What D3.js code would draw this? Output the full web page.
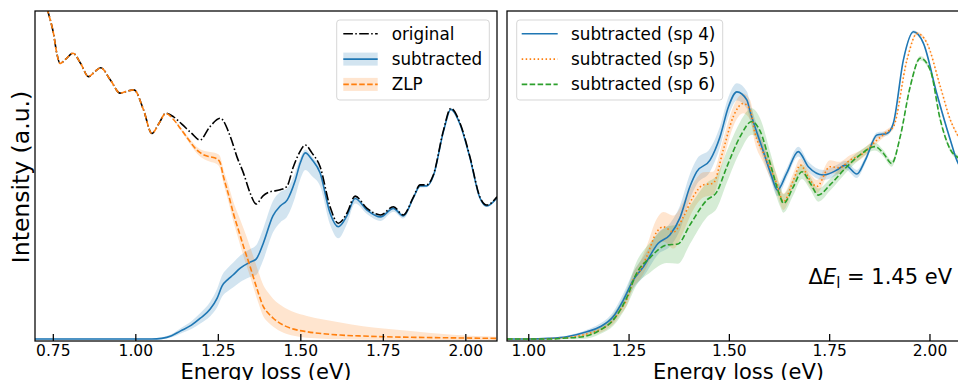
<!DOCTYPE html>
<html><head><meta charset="utf-8">
<script src="https://cdn.jsdelivr.net/npm/d3@7"></script>
<style>body{margin:0;background:#fff}svg{display:block;font-family:"DejaVu Sans",sans-serif}</style>
</head><body><svg id="c" width="958" height="380"></svg>
<script>
// ---------- DATA (energy in eV, intensity in a.u.) ----------
// Left panel
const origE = [0.70,0.72,0.735,0.752,0.762,0.772,0.79,0.811,0.835,0.858,0.876,0.895,0.925,0.954,0.975,0.996,1.025,1.05,1.072,1.092,1.115,1.141,1.17,1.196,1.225,1.257,1.288,1.308,1.328,1.348,1.366,1.387,1.408,1.439,1.459,1.479,1.497,1.515,1.535,1.560,1.590,1.615,1.641,1.666,1.702,1.743,1.782,1.812,1.843,1.863,1.883,1.903,1.934,1.956,1.984,2.014,2.044,2.065,2.096];
const origI = [115,106,100,93.2,87.2,84.1,85.5,87.2,84,80.1,81.5,82.8,79,75.1,75.7,76.1,70,62.9,66,69.0,68,65.7,63,60.9,64.8,67.5,61.9,55.8,50.8,44.8,41.5,44,45.2,45.8,46.8,52.8,57,59.4,57,52.8,40.7,35.7,38.7,43.9,40.2,38.2,40.7,38.2,43.7,47.3,47.3,50.3,63.9,70.5,66.0,55.8,43.7,41.2,43.7];

const subE = [0.696,1.0,1.05,1.08,1.11,1.136,1.17,1.197,1.227,1.248,1.263,1.280,1.296,1.318,1.348,1.366,1.387,1.417,1.440,1.460,1.484,1.500,1.515,1.535,1.560,1.590,1.615,1.641,1.666,1.702,1.743,1.782,1.812,1.843,1.863,1.883,1.903,1.934,1.956,1.984,2.014,2.044,2.065,2.096];
const subI = [0.6,0.6,0.6,0.8,1.6,3.0,4.8,6.9,9.7,13.0,16.7,18.6,20.0,22.1,23.9,24.8,29.4,37.9,41,42.7,48.5,54,57.0,55,50.9,38.8,34.6,37.9,43.2,39.7,37.6,40.2,37.9,43.5,47.0,47.0,50.0,63.6,70.2,65.7,55.5,43.4,40.9,43.4];
const subUp = [0.2,0.2,0.2,0.3,0.5,0.8,1.2,1.6,2.2,2.8,3.2,3.5,3.7,3.8,4,4.2,4.5,4.5,4.2,3.5,2.5,1.5,1,1,1.2,1.2,1,0.8,0.8,0.8,0.8,0.6,0.6,0.5,0.5,0.4,0.4,0.3,0.3,0.3,0.3,0.3,0.3,0.3];
const subDown = [0.2,0.2,0.2,0.3,0.5,0.8,1.2,1.6,2.2,2.8,3.2,3.5,3.8,4.2,4.5,4.8,5,5,5,5,5,5,5.2,5,4,3.5,3.5,2.5,1.5,1.2,1.2,1,0.8,0.6,0.5,0.4,0.4,0.3,0.3,0.3,0.3,0.3,0.3,0.3];

const zlpE = [0.70,0.72,0.735,0.752,0.762,0.772,0.79,0.811,0.835,0.858,0.876,0.895,0.925,0.954,0.975,0.996,1.025,1.05,1.072,1.092,1.115,1.136,1.16,1.186,1.21,1.227,1.245,1.256,1.267,1.282,1.297,1.313,1.328,1.348,1.373,1.388,1.403,1.418,1.449,1.48,1.52,1.57,1.621,1.69,1.752,1.85,1.924,2.0,2.096];
const zlpI = [115,106,100,93.2,87.2,84.1,85.5,87.2,84,80.1,81.5,82.8,79,75.1,75.7,76.1,70,62.9,66,69.0,67.2,64.5,61.2,57.9,56.3,55.8,55.3,54.3,49.8,44.5,38.7,33.5,28.6,22.5,14.5,10.4,8.4,6.9,4.8,3.6,2.8,2.2,1.8,1.5,1.3,1.1,1.0,0.9,0.8];
const zlpUp = [0,0,0,0,0,0,0,0,0,0,0,0,0,0,0,0,0,0,0,0,0.2,0.4,0.7,1,1.3,1.5,1.6,1.8,2.2,2.8,3.5,4.5,5.5,6,6.5,6.5,6.2,5.8,5.5,5.2,4.8,4.3,3.8,3,2.5,1.8,1.2,0.8,0.5];
const zlpDown = [0,0,0,0,0,0,0,0,0,0,0,0,0,0,0,0,0,0,0,0,0.2,0.4,0.7,1,1.3,1.5,1.6,1.8,2,2.2,2.5,2.8,3,3,3,3,2.8,2.6,2.3,2,1.8,1.5,1.3,1.1,0.9,0.8,0.7,0.7,0.6];

// Right panel
const sp4E = [0.947,1.0,1.05,1.096,1.146,1.179,1.212,1.237,1.262,1.287,1.324,1.353,1.378,1.403,1.420,1.453,1.478,1.499,1.520,1.545,1.553,1.582,1.605,1.621,1.644,1.673,1.698,1.736,1.769,1.790,1.819,1.840,1.869,1.894,1.910,1.935,1.960,1.985,2.018,2.052,2.068,2.101];
const sp4I = [0.6,0.6,0.8,1.3,2.8,4.3,7.4,12.4,18.5,22.5,29.6,32.1,37.3,46.8,51.3,54.8,61.9,71.0,75.5,73.0,69.5,58.9,50.5,45.7,50.8,57.4,52.8,50.3,51.8,53.3,50.6,54.8,62.4,62.9,66.0,85.2,93.7,90.2,75.1,60.9,54.8,50];
const sp4Err = [0,0,0.2,0.3,0.6,1,1.5,2,2.5,3,3.3,3.5,3.7,3.8,3.8,3.5,3.2,3,2.6,2.6,2.5,2.3,2,1.8,1.5,1.5,1.5,1.5,1.5,1.3,1.2,1,0.8,0.7,0.6,0.5,0.5,0.5,0.5,0.5,0.5,0.5];

const sp5E = [0.947,1.0,1.05,1.096,1.154,1.191,1.216,1.229,1.245,1.262,1.279,1.295,1.320,1.337,1.362,1.387,1.411,1.436,1.461,1.486,1.511,1.536,1.553,1.565,1.586,1.619,1.636,1.661,1.678,1.702,1.719,1.752,1.775,1.802,1.835,1.869,1.894,1.910,1.944,1.969,1.994,2.027,2.052,2.072,2.101];
const sp5I = [0.6,0.6,0.7,1.0,2.4,4.2,7.0,9.4,12.4,18.5,21.5,25.5,33.0,34.6,33.0,37.7,43.7,47.3,47.8,57.9,68.0,72.0,70.0,63,57,47.8,42.2,48.8,53.3,48.8,46.8,52.8,52.5,54.8,56.9,60.9,63.4,64.9,85.2,93.2,90.2,77.1,67.0,61.9,55];
const sp5Err = [0,0,0.2,0.3,0.6,1,1.3,1.5,1.8,2.2,2.7,3.2,4,4.5,5,4.5,4,3.8,3.5,3.3,3,3,3,3,3,2.8,2.5,2.2,2,2,2,2,1.8,1.5,1.3,1,0.8,0.7,0.6,0.5,0.5,0.5,0.5,0.5,0.5];

const sp6E = [0.947,1.0,1.05,1.096,1.137,1.179,1.212,1.245,1.270,1.303,1.345,1.373,1.403,1.445,1.470,1.495,1.528,1.557,1.578,1.603,1.628,1.636,1.661,1.682,1.703,1.723,1.752,1.794,1.827,1.864,1.885,1.906,1.927,1.952,1.977,2.002,2.027,2.052,2.072,2.101];
const sp6I = [0.6,0.6,0.6,0.9,1.3,3.3,6.4,13.0,20.5,25.2,29.1,29.4,35.2,42.7,45.2,52.8,61.9,66.5,63.6,53.8,43.7,41.7,46.8,51.3,47.8,44.2,47.3,52.8,56.4,58.9,56.9,53.8,61.9,77.1,85.7,82.1,67.0,58,55.5,53];
const sp6Err = [0,0,0.2,0.4,0.7,1.2,1.8,2.5,3.5,4.5,5.5,6,5.8,5.2,5,4.8,4.5,4,3.8,3.5,3,2.8,2.5,2.2,2,2,1.8,1.5,1.3,1.2,1,1,0.8,0.7,0.7,0.7,0.7,0.7,0.7,0.7];

const leftTicks = [0.75,1.00,1.25,1.50,1.75,2.00];
const rightTicks = [1.00,1.25,1.50,1.75,2.00];
const leftLegend = ["original","subtracted","ZLP"];
const rightLegend = ["subtracted (sp 4)","subtracted (sp 5)","subtracted (sp 6)"];
const annotation = {value:"1.45", unit:"eV"};

// ---------- DRAW ----------
const BLUE="#1f77b4", ORANGE="#ff7f0e", GREEN="#2ca02c";
const LW=1.6;
const svg=d3.select('#c');
const y=d3.scaleLinear().domain([0,100]).range([341,11]);
const yTop=11,yBot=341;

function series(E,I){return E.map((e,i)=>[e,I[i]]);}
function bandData(E,I,up,down){return E.map((e,i)=>[e,I[i]-down[i],I[i]+up[i]]);}

function makePanel(id,x0,x1,domain,ticks){
  const x=d3.scaleLinear().domain(domain).range([x0,x1]);
  svg.append('clipPath').attr('id',id).append('rect')
    .attr('x',x0).attr('y',yTop).attr('width',x1-x0).attr('height',yBot-yTop);
  const g=svg.append('g').attr('clip-path',`url(#${id})`);
  const line=d3.line().x(d=>x(d[0])).y(d=>y(d[1])).curve(d3.curveMonotoneX);
  const area=d3.area().x(d=>x(d[0])).y0(d=>y(d[1])).y1(d=>y(d[2])).curve(d3.curveMonotoneX);
  const ax=svg.append('g').attr('transform',`translate(0,${yBot})`)
    .call(d3.axisBottom(x).tickValues(ticks).tickFormat(d3.format('.2f'))
      .tickSizeInner(-7).tickSizeOuter(0).tickPadding(3.5));
  ax.select('.domain').remove();
  ax.selectAll('.tick line').attr('stroke','#000').attr('stroke-width',1.25);
  ax.selectAll('.tick text').attr('font-size',15.5).attr('fill','#000')
    .attr('font-family','"DejaVu Sans",sans-serif');
  svg.append('rect').attr('x',x0).attr('y',yTop).attr('width',x1-x0).attr('height',yBot-yTop)
    .attr('fill','none').attr('stroke','#000').attr('stroke-width',1.25);
  svg.append('text').attr('x',(x0+x1)/2).attr('y',378.5).attr('text-anchor','middle')
    .attr('font-size',21).attr('fill','#000').text('Energy loss (eV)');
  return {x,g,line,area};
}

// Left panel
const L=makePanel('clipL',35,497,[0.696,2.096],leftTicks);
L.g.append('path').datum(bandData(subE,subI,subUp,subDown)).attr('d',L.area).attr('fill',BLUE).attr('fill-opacity',0.2);
L.g.append('path').datum(bandData(zlpE,zlpI,zlpUp,zlpDown)).attr('d',L.area).attr('fill',ORANGE).attr('fill-opacity',0.2);
L.g.append('path').datum(series(subE,subI)).attr('d',L.line).attr('fill','none').attr('stroke',BLUE).attr('stroke-width',LW);
L.g.append('path').datum(series(origE,origI)).attr('d',L.line).attr('fill','none').attr('stroke','#000').attr('stroke-width',LW).attr('stroke-dasharray','9.6,2.4,1.5,2.4');
L.g.append('path').datum(series(zlpE,zlpI)).attr('d',L.line).attr('fill','none').attr('stroke',ORANGE).attr('stroke-width',LW).attr('stroke-dasharray','5.55,2.4');

// Right panel
const R=makePanel('clipR',507,970,[0.947,2.101],rightTicks);
[[sp4E,sp4I,sp4Err,BLUE],[sp5E,sp5I,sp5Err,ORANGE],[sp6E,sp6I,sp6Err,GREEN]].forEach(([E,I,Er,c])=>{
  R.g.append('path').datum(bandData(E,I,Er,Er)).attr('d',R.area).attr('fill',c).attr('fill-opacity',0.2);
});
[[sp4E,sp4I,BLUE,null],[sp5E,sp5I,ORANGE,'1.5,2.475'],[sp6E,sp6I,GREEN,'5.55,2.4']].forEach(([E,I,c,da])=>{
  const p=R.g.append('path').datum(series(E,I)).attr('d',R.line).attr('fill','none').attr('stroke',c).attr('stroke-width',LW);
  if(da) p.attr('stroke-dasharray',da);
});

// Y label
svg.append('text').attr('transform','translate(29,177) rotate(-90)').attr('text-anchor','middle')
  .attr('font-size',23.5).attr('fill','#000').text('Intensity (a.u.)');

// Legends
function legend(bx,bw,hx0,hx1,tx,labels,styles){
  svg.append('rect').attr('x',bx).attr('y',20).attr('width',bw).attr('height',80).attr('rx',3)
    .attr('fill','#fff').attr('fill-opacity',0.8).attr('stroke','#cccccc').attr('stroke-opacity',0.8).attr('stroke-width',1);
  labels.forEach((lab,i)=>{
    const ly=33.8+i*25.3, s=styles[i];
    if(s.band) svg.append('rect').attr('x',hx0).attr('y',ly-6.5).attr('width',hx1-hx0).attr('height',13).attr('fill',s.c).attr('fill-opacity',0.2);
    const l=svg.append('line').attr('x1',hx0).attr('x2',hx1).attr('y1',ly).attr('y2',ly).attr('stroke',s.c).attr('stroke-width',LW);
    if(s.da) l.attr('stroke-dasharray',s.da);
    svg.append('text').attr('x',tx).attr('y',ly+6).attr('font-size',16.8).attr('fill','#000').text(lab);
  });
}
legend(336.7,152.6,343.3,377.7,391.7,leftLegend,[
  {c:'#000',da:'9.6,2.4,1.5,2.4'},{c:BLUE,band:true},{c:ORANGE,band:true,da:'5.55,2.4'}]);
legend(516.7,206,521.7,557.7,571,rightLegend,[
  {c:BLUE},{c:ORANGE,da:'1.5,2.475'},{c:GREEN,da:'5.55,2.4'}]);

// Annotation
const t=svg.append('text').attr('x',952).attr('y',284.3).attr('text-anchor','end').attr('font-size',21).attr('fill','#000');
t.append('tspan').text('Δ');
t.append('tspan').attr('font-style','italic').text('E');
t.append('tspan').attr('font-size',15).attr('dy',4).text('l');
t.append('tspan').attr('dy',-4).text(' = '+annotation.value+' '+annotation.unit);
</script></body></html>
